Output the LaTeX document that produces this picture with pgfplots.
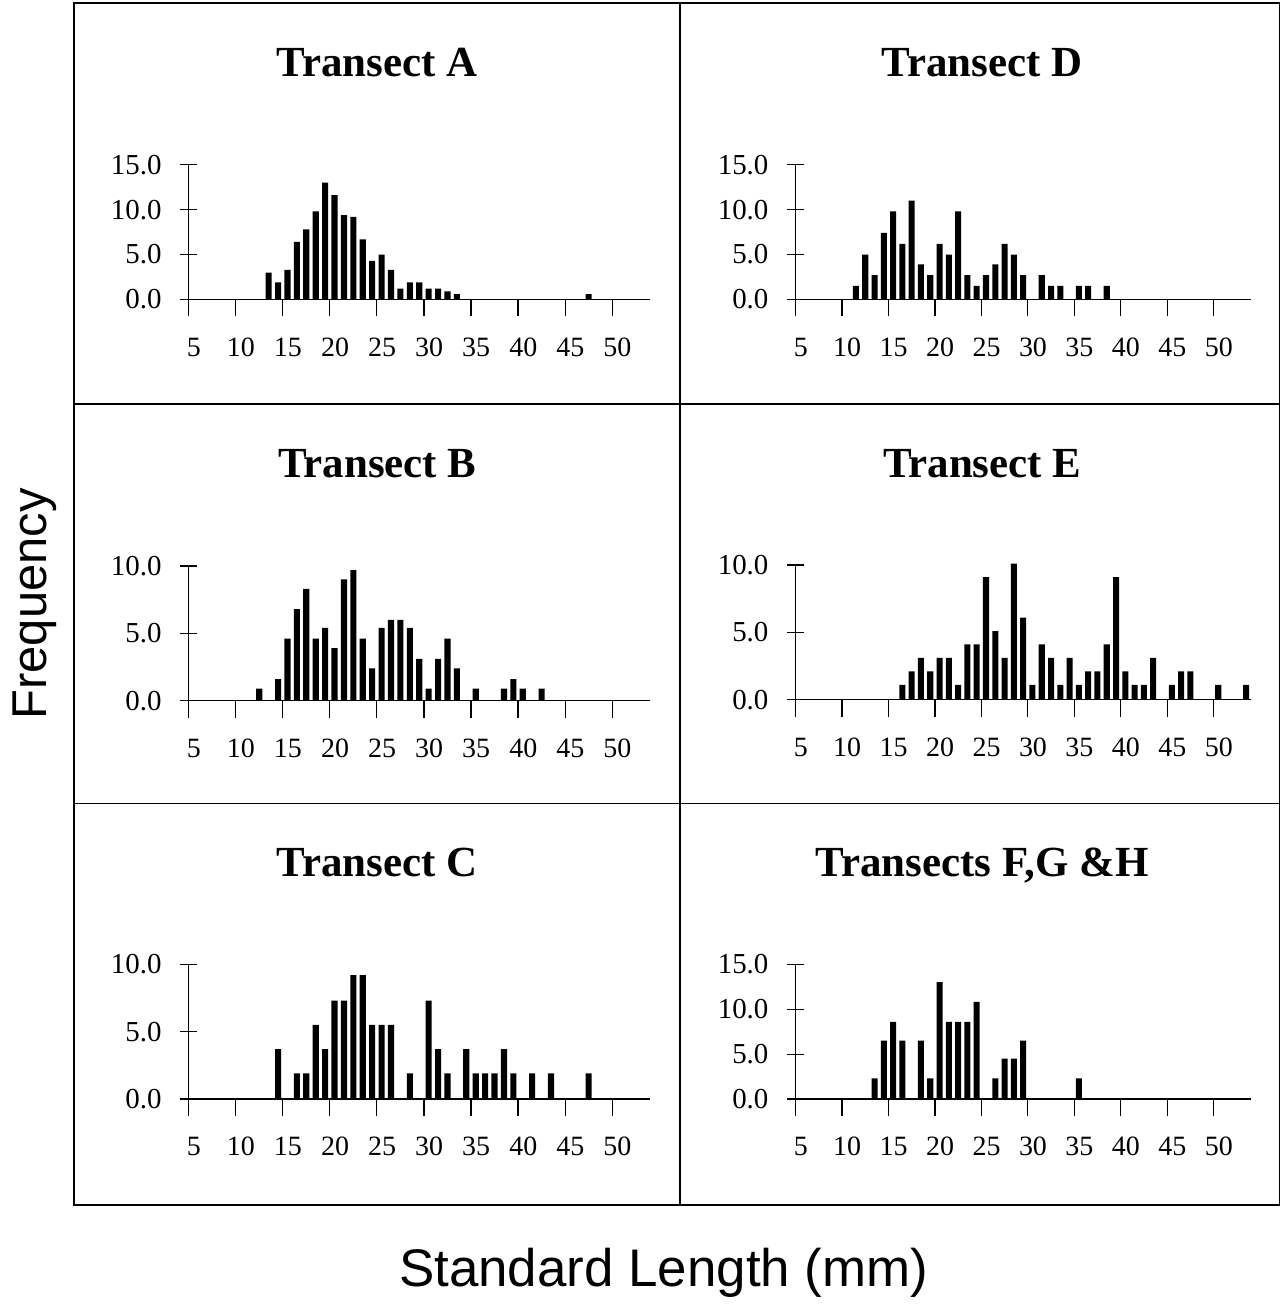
\documentclass[border=0pt]{standalone}
\usepackage{pgfplots}
\pgfplotsset{compat=1.18}
\usepackage{fontspec}
\setmainfont{Liberation Serif}
\newfontfamily\sansfont{Liberation Sans}

% one histogram panel; bars sit on the bin value, ticks on bin edges
\pgfplotsset{
  histo/.style={
    scale only axis,
    anchor=south west,
    axis x line*=bottom, axis y line*=left,
    axis line style={-, line width=0.6pt},
    every non boxed x axis/.append style={xtick align=center},
    every non boxed y axis/.append style={ytick align=center},
    xmin=4.5, xmax=53.5, ymin=0,
    xtick={4.5,9.5,14.5,19.5,24.5,29.5,34.5,39.5,44.5,49.5},
    xticklabels={5,10,15,20,25,30,35,40,45,50},
    tick align=center,
    major tick length=8.5pt,
    tick style={line width=0.6pt, black},
    x tick label style={font=\fontsize{14}{16}\selectfont, anchor=base,
      xshift=2.6pt, yshift=-20pt},
    y tick label style={font=\fontsize{14.5}{16}\selectfont, anchor=east,
      /pgf/number format/.cd, fixed, fixed zerofill,
      precision=1, assume math mode=true, /tikz/.cd, xshift=-5.8pt},
    ybar, bar width=0.65,
    clip=false,
  },
  narrow/.style={width=231pt, height=67.5pt},
  wide/.style={width=228pt, height=67.5pt},
}

\begin{document}
\begin{tikzpicture}[x=0.5pt,y=-0.5pt]
\path (0,0) rectangle (1283,1304);
\draw[line width=0.8pt] (74,3) rectangle (1282,1207);
\draw[line width=0.8pt] (681,3) -- (681,1207);
\draw[line width=0.8pt] (74,405) -- (1282,405);
\draw[line width=0.8pt] (74,805) -- (1282,805);

% Transect A
\begin{axis}[histo, narrow, at={(94.5pt,-150pt)}, ymax=15, ytick={0,5,10,15}]
\addplot[fill=black, draw=none] coordinates {
(13,3.0) (14,1.9) (15,3.3) (16,6.4) (17,7.8) (18,9.8) (19,13.0) (20,11.6)
(21,9.4) (22,9.2) (23,6.7) (24,4.3) (25,5.0) (26,3.3) (27,1.2) (28,1.9)
(29,1.9) (30,1.2) (31,1.2) (32,0.9) (33,0.6) (47,0.6)};
\end{axis}

% Transect D
\begin{axis}[histo, wide, at={(398.5pt,-150pt)}, ymax=15, ytick={0,5,10,15}]
\addplot[fill=black, draw=none] coordinates {
(11,1.5) (12,5.0) (13,2.7) (14,7.4) (15,9.8) (16,6.2) (17,11.0) (18,3.9)
(19,2.7) (20,6.2) (21,5.0) (22,9.8) (23,2.7) (24,1.5) (25,2.7) (26,3.9)
(27,6.2) (28,5.0) (29,2.7) (31,2.7) (32,1.5) (33,1.5) (35,1.5) (36,1.5)
(38,1.5)};
\end{axis}

% Transect B
\begin{axis}[histo, narrow, at={(94.5pt,-351pt)}, ymax=10, ytick={0,5,10}]
\addplot[fill=black, draw=none] coordinates {
(12,0.9) (14,1.6) (15,4.6) (16,6.8) (17,8.3) (18,4.6) (19,5.4) (20,3.9)
(21,9.0) (22,9.7) (23,4.6) (24,2.4) (25,5.4) (26,6.0) (27,6.0) (28,5.4)
(29,3.1) (30,0.9) (31,3.1) (32,4.6) (33,2.4) (35,0.9) (38,0.9) (39,1.6)
(40,0.9) (42,0.9)};
\end{axis}

% Transect E
\begin{axis}[histo, wide, at={(398.5pt,-350.5pt)}, ymax=10, ytick={0,5,10}]
\addplot[fill=black, draw=none] coordinates {
(16,1.1) (17,2.1) (18,3.1) (19,2.1) (20,3.1) (21,3.1) (22,1.1) (23,4.1)
(24,4.1) (25,9.1) (26,5.1) (27,3.1) (28,10.1) (29,6.1) (30,1.1) (31,4.1)
(32,3.1) (33,1.1) (34,3.1) (35,1.1) (36,2.1) (37,2.1) (38,4.1) (39,9.1)
(40,2.1) (41,1.1) (42,1.1) (43,3.1) (45,1.1) (46,2.1) (47,2.1) (50,1.1)
(53,1.1)};
\end{axis}

% Transect C
\begin{axis}[histo, narrow, at={(94.5pt,-550.5pt)}, ymax=10, ytick={0,5,10}]
\addplot[fill=black, draw=none] coordinates {
(14,3.7) (16,1.9) (17,1.9) (18,5.5) (19,3.7) (20,7.3) (21,7.3) (22,9.2)
(23,9.2) (24,5.5) (25,5.5) (26,5.5) (28,1.9) (30,7.3) (31,3.7) (32,1.9)
(34,3.7) (35,1.9) (36,1.9) (37,1.9) (38,3.7) (39,1.9) (41,1.9) (43,1.9)
(47,1.9)};
\end{axis}

% Transects F, G & H
\begin{axis}[histo, wide, at={(398.5pt,-550.5pt)}, ymax=15, ytick={0,5,10,15}]
\addplot[fill=black, draw=none] coordinates {
(13,2.3) (14,6.5) (15,8.6) (16,6.5) (18,6.5) (19,2.3) (20,13.0) (21,8.6)
(22,8.6) (23,8.6) (24,10.8) (26,2.3) (27,4.5) (28,4.5) (29,6.5) (35,2.3)};
\end{axis}

\tikzset{ttl/.style={anchor=base, font=\bfseries\fontsize{21.5}{24}\selectfont}}
\node[ttl] at (378,77) {Transect A};
\node[ttl] at (984,77) {Transect D};
\node[ttl] at (378,478) {Transect B};
\node[ttl] at (984,478) {Transect E};
\node[ttl] at (378,878) {Transect C};
\node[ttl] at (984,878) {Transects F,G \&H};

\node[rotate=90, font=\sansfont\fontsize{24.5}{26}\selectfont] at (35,605) {Frequency};
\node[font=\sansfont\fontsize{26.5}{28}\selectfont] at (665,1275) {Standard Length (mm)};
\end{tikzpicture}
\end{document}
